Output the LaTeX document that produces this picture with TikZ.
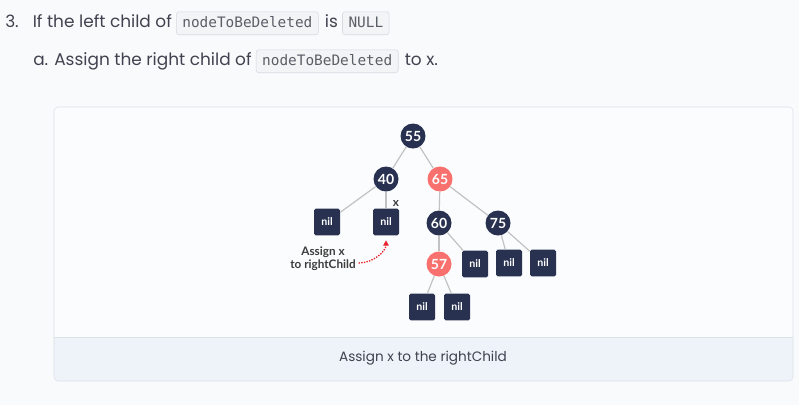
\documentclass[tikz,border=0pt]{standalone}
\usepackage{fontspec}
\setmainfont{Poppins}
\setmonofont{DejaVu Sans Mono}
\newfontfamily\latofont{Lato}
\usepackage{tikz}
\usetikzlibrary{arrows.meta}
\definecolor{pagebg}{HTML}{F9FAFC}
\definecolor{headtext}{HTML}{40434F}
\definecolor{codefill}{HTML}{F3F4F6}
\definecolor{codeline}{HTML}{D6D9DE}
\definecolor{codetext}{HTML}{5A5E66}
\definecolor{cardline}{HTML}{DCE1E8}
\definecolor{capfill}{HTML}{EEF3FA}
\definecolor{navy}{HTML}{283250}
\definecolor{salmon}{HTML}{F9716E}
\definecolor{edgegray}{HTML}{C2C2C2}
\definecolor{arrowred}{HTML}{E8212B}
\definecolor{labeltext}{HTML}{3C3C3C}

\begin{document}
\begin{tikzpicture}[x=0.75pt,y=-0.75pt]
\tikzstyle{every node}=[inner sep=0pt]
\tikzstyle{headline}=[anchor=base west,text=headtext,font=\fontsize{12.7}{15}\selectfont]
\tikzstyle{codebox}=[anchor=base west,draw=codeline,fill=codefill,rounded corners=2pt,
  inner xsep=4.5pt,inner ysep=3.6pt,text height=7.8pt,text depth=2.2pt,text=codetext,
  font=\ttfamily\fontsize{10.8}{12}\selectfont]
\tikzstyle{blacknode}=[circle,fill=navy,text=white,minimum size=18.75pt,
  font=\latofont\bfseries\fontsize{10.5}{12}\selectfont]
\tikzstyle{rednode}=[blacknode,fill=salmon]
\tikzstyle{nilbox}=[rectangle,fill=navy,rounded corners=1.2pt,text=white,
  minimum width=19.5pt,minimum height=20pt,font=\latofont\bfseries\fontsize{8}{9}\selectfont]
\tikzstyle{edge}=[draw=edgegray,line width=0.9pt]
\tikzstyle{note}=[text=labeltext,align=center,font=\latofont\bfseries\fontsize{8.8}{10}\selectfont]
\fill[pagebg] (0,0) rectangle (799,405);
\useasboundingbox (0,0) rectangle (799,405);
% header lines
\node[headline] (h1) at (5,27) {3.\hspace{6pt} If the left child of};
\node[codebox] (c1) at ([xshift=3pt]h1.base east) {nodeToBeDeleted};
\node[headline] (h2) at ([xshift=4.5pt]c1.base east) {is};
\node[codebox] (c2) at ([xshift=3pt]h2.base east) {NULL};
\node[headline] (h3) at (33,65) {a. Assign the right child of};
\node[codebox] (c3) at ([xshift=3pt]h3.base east) {nodeToBeDeleted};
\node[headline] (h4) at ([xshift=4.5pt]c3.base east) {to x.};
% card
\fill[white!40!pagebg,rounded corners=3pt] (54,107) rectangle (793,381);
\fill[capfill,rounded corners=3pt] (54,337) rectangle (793,381);
\fill[capfill] (54,337) rectangle (793,350);
\draw[cardline,rounded corners=3pt] (54,107) rectangle (793,381);
\draw[cardline] (54,337) -- (793,337);
\node[text=headtext,font=\fontsize{10.2}{12}\selectfont] (cap) at (423,358) {Assign x to the rightChild};
% tree
\node[blacknode] (n55) at (413,136) {55};
\node[blacknode] (n40) at (386,179) {40};
\node[rednode] (n65) at (440,179) {65};
\node[nilbox] (nl1) at (327,222) {nil};
\node[nilbox] (nx) at (386,222) {nil};
\node[blacknode] (n60) at (439,223) {60};
\node[blacknode] (n75) at (498,223) {75};
\node[rednode] (n57) at (439,264) {57};
\node[nilbox] (nl2) at (475,264) {nil};
\node[nilbox] (nl3) at (509,263) {nil};
\node[nilbox] (nl4) at (543,263) {nil};
\node[nilbox] (nl5) at (422,307) {nil};
\node[nilbox] (nl6) at (457,307) {nil};
\draw[edge](n55)--(n40);
\draw[edge](n55)--(n65);
\draw[edge](n40)--(nl1);
\draw[edge](n40)--(nx);
\draw[edge](n65)--(n60);
\draw[edge](n65)--(n75);
\draw[edge](n60)--(n57);
\draw[edge](n60)--(nl2);
\draw[edge](n75)--(nl3);
\draw[edge](n75)--(nl4);
\draw[edge](n57)--(nl5);
\draw[edge](n57)--(nl6);
\node[note] (xlbl) at (396,203) {x};
\node[note] (lbl) at (323,259) {Assign x\\to rightChild};
\draw[arrowred,densely dotted,line width=1pt,-{Triangle[length=4pt,width=4pt]},shorten >=3.5pt]
  ([xshift=2pt,yshift=-3pt]lbl.east) to[out=0,in=-90] (nx.south);
\end{tikzpicture}
\end{document}
